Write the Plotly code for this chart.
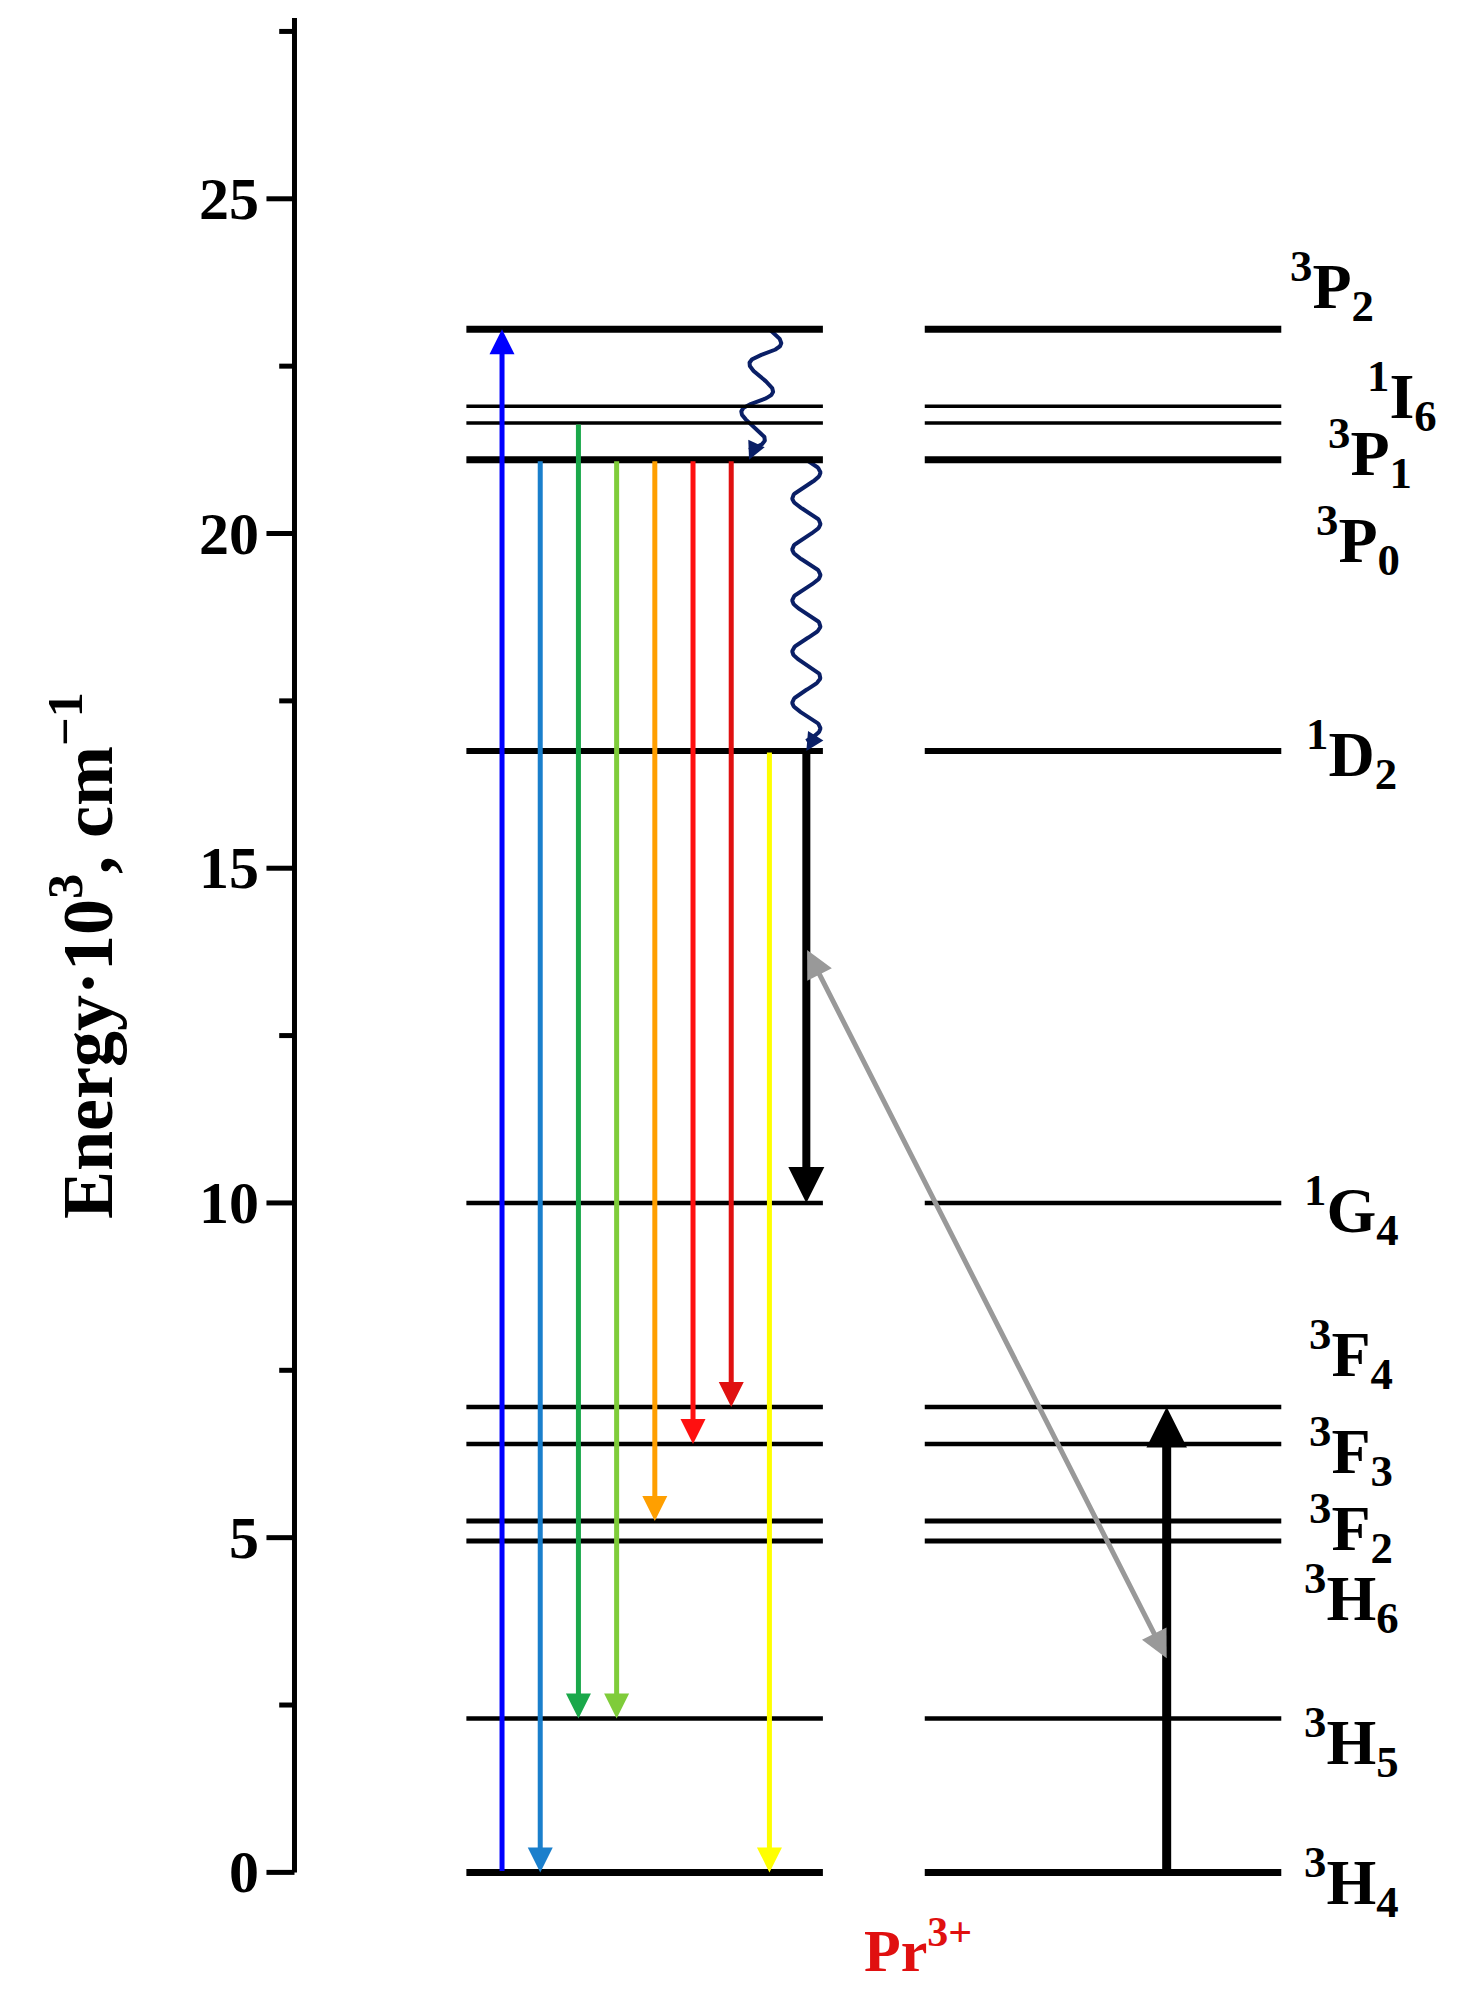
import numpy as np
import plotly.graph_objects as go

# Energy levels of Pr3+ (10^3 cm^-1)
level_names = ["3H4", "3H5", "3H6", "3F2", "3F3", "3F4", "1G4", "1D2", "3P0", "3P1", "1I6", "3P2"]
level_E = [0.0, 2.3, 4.95, 5.25, 6.4, 6.95, 10.0, 16.75, 21.1, 21.65, 21.9, 23.05]
level_w = [7, 4.5, 5, 5, 4.5, 4.5, 4.5, 6, 7, 3.5, 3.5, 7]
label_html = ["<sup>3</sup>H<sub>4</sub>", "<sup>3</sup>H<sub>5</sub>", "<sup>3</sup>H<sub>6</sub>",
              "<sup>3</sup>F<sub>2</sub>", "<sup>3</sup>F<sub>3</sub>", "<sup>3</sup>F<sub>4</sub>",
              "<sup>1</sup>G<sub>4</sub>", "<sup>1</sup>D<sub>2</sub>", "<sup>3</sup>P<sub>0</sub>",
              "<sup>3</sup>P<sub>1</sub>", "<sup>1</sup>I<sub>6</sub>", "<sup>3</sup>P<sub>2</sub>"]
label_y = [-0.15, 1.95, 4.1, 5.15, 6.3, 7.75, 9.9, 16.7, 19.9, 21.2, 22.06, 23.7]
label_x = [1055, 1055, 1055, 1055, 1055, 1055, 1055, 1055, 1060, 1070, 1095, 1040]

# transitions: x, E_start, E_end, colour, width
tr_x = [388, 418, 448, 478, 508, 538, 568, 598, 627, 910]
tr_from = [0.0, 21.1, 21.65, 21.1, 21.1, 21.1, 21.1, 16.75, 16.75, 0.0]
tr_to = [23.05, 0.0, 2.3, 2.3, 5.25, 6.4, 6.95, 0.0, 10.0, 6.95]
tr_col = ["#0000ff", "#1a7fcc", "#1aa84a", "#7fcc3a", "#ff9f00", "#ff1010", "#e01010", "#ffff00", "#000000", "#000000"]
tr_w = [5, 5, 5, 5, 5, 5, 5, 5, 8, 9]

ticks_major = [0, 5, 10, 15, 20, 25]
ticks_minor = [2.5, 7.5, 12.5, 17.5, 22.5, 27.5]

fig = go.Figure()
X0 = 225
fig.add_shape(type="line", x0=X0, x1=X0, y0=0, y1=27.7, line=dict(color="black", width=5))
for t in ticks_major:
    fig.add_shape(type="line", x0=X0 - 22, x1=X0, y0=t, y1=t, line=dict(color="black", width=5))
    fig.add_annotation(x=X0 - 26, y=t, text="<b>" + str(t) + "</b>", showarrow=False, xanchor="right",
                       font=dict(family="Liberation Serif", size=60, color="black"))
for t in ticks_minor:
    fig.add_shape(type="line", x0=X0 - 12, x1=X0, y0=t, y1=t, line=dict(color="black", width=5))
fig.add_annotation(x=58, y=13.7, text="<b>Energy·10<sup>3</sup>, cm<sup>−1</sup></b>", showarrow=False,
                   textangle=-90, font=dict(family="Liberation Serif", size=72, color="black"))

for E, w, lh, ly, lx in zip(level_E, level_w, label_html, label_y, label_x):
    fig.add_shape(type="line", x0=360, x1=640, y0=E, y1=E, line=dict(color="black", width=w))
    fig.add_shape(type="line", x0=720, x1=1000, y0=E, y1=E, line=dict(color="black", width=w))
    fig.add_annotation(x=lx, y=ly, text="<b>" + lh + "</b>", showarrow=False,
                       font=dict(family="Liberation Serif", size=64, color="black"))

for x, a, b, c, w in zip(tr_x, tr_from, tr_to, tr_col, tr_w):
    fig.add_annotation(x=x, y=b, ax=x, ay=a, axref="x", ayref="y", xref="x", yref="y",
                       text="", showarrow=True, arrowhead=2, arrowsize=1.0 if w < 7 else 0.9,
                       arrowwidth=w, arrowcolor=c, standoff=0)

# gray double arrow
fig.add_annotation(x=910, y=3.2, ax=627, ay=13.8, axref="x", ayref="y", text="", showarrow=True,
                   arrowhead=2, startarrowhead=2, arrowside="end+start", arrowsize=1.1, startarrowsize=1.1,
                   arrowwidth=5, arrowcolor="#999999", standoff=0, startstandoff=0)

# wavy non-radiative relaxations
def wavy(x0, y0, x1, y1, n, amp):
    t = np.linspace(0, 1, 300)
    dx, dy = x1 - x0, (y1 - y0) * 51.9
    L = np.hypot(dx, dy)
    nx, ny = -dy / L, dx / L
    off = amp * np.sin(2 * np.pi * n * t)
    xs = x0 + dx * t + nx * off
    ys = y0 + (y1 - y0) * t + ny * off / 51.9
    return xs, ys

for (x0, y0, x1, y1, n) in [(598, 23.05, 582, 21.25, 2.5), (627, 21.1, 627, 16.9, 5.5)]:
    xs, ys = wavy(x0, y0, x1, y1, n, 11)
    fig.add_trace(go.Scatter(x=xs, y=ys, mode="lines", line=dict(color="#0a1f66", width=4), hoverinfo="skip"))
    fig.add_annotation(x=x1, y=y1 - 0.15, ax=xs[-8], ay=ys[-8], axref="x", ayref="y", text="", showarrow=True,
                       arrowhead=2, arrowsize=0.9, arrowwidth=4, arrowcolor="#0a1f66", standoff=0)

fig.add_annotation(x=715, y=-1.1, text="<b>Pr<sup>3+</sup></b>", showarrow=False,
                   font=dict(family="Liberation Serif", size=60, color="#e01010"))

fig.update_layout(width=1477, height=2015, margin=dict(l=0, r=0, t=0, b=0),
                  plot_bgcolor="white", paper_bgcolor="white", showlegend=False,
                  xaxis=dict(range=[0, 1160], visible=False),
                  yaxis=dict(range=[-2.25, 27.85], visible=False))
fig.write_html("out.html")
